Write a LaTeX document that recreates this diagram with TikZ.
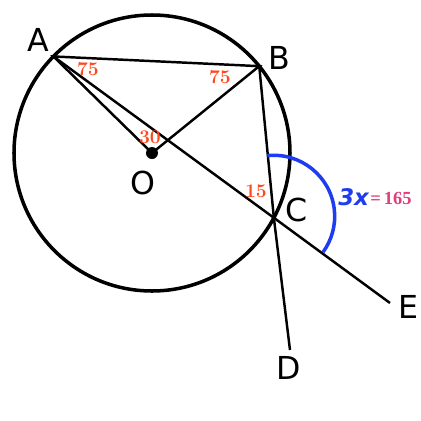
\documentclass[tikz,border=0pt]{standalone}
\usepackage{fontspec}
\setsansfont{DejaVu Sans}
\newfontfamily\valfont{Liberation Serif}
\usetikzlibrary{calc}
\definecolor{angred}{RGB}{255,72,30}
\definecolor{arcblue}{RGB}{30,60,240}
\definecolor{valpink}{RGB}{228,60,120}
\tikzset{
  pt/.style={font=\sffamily\fontsize{18}{20}\selectfont},
  ang/.style={text=angred,font=\bfseries\fontsize{11}{12}\selectfont,inner sep=0pt}
}
\begin{document}
\begin{tikzpicture}
\useasboundingbox (-3.04,3.06) rectangle (5.38,-5.36);
\coordinate (O) at (0,0);
\coordinate (A) at (135.6:2.76);
\coordinate (B) at (39:2.76);
\coordinate (C) at (-28:2.76);
\coordinate (D) at (2.76,-3.94);
\coordinate (E) at (4.76,-3.0);
\draw[line width=2pt] (O) circle (2.76);
\draw[line width=1.4pt] (A) -- (B) -- (O) -- cycle;
\draw[line width=1.4pt] (A) -- (C) -- (E);
\draw[line width=1.4pt] (B) -- (C) -- (D);
\fill (O) circle (0.12);
\path (C) ++(96:1.25) coordinate (arcstart);
\draw[arcblue,line width=2pt] (arcstart) arc[start angle=96,end angle=-36,radius=1.22];
\node[pt] (lA) at (-2.28,2.26) {A};
\node[pt] (lB) at (2.54,1.9) {B};
\node[pt] (lO) at (-0.18,-0.6) {O};
\node[pt] (lC) at (2.9,-1.14) {C};
\node[pt] (lD) at (2.74,-4.3) {D};
\node[pt] (lE) at (5.12,-3.08) {E};
\node[ang] (a1) at (-1.28,1.68) {75};
\node[ang] (a2) at (1.36,1.52) {75};
\node[ang] (a3) at (-0.04,0.32) {30};
\node[ang] (a4) at (2.08,-0.76) {15};
\node[anchor=west,inner sep=0pt,text=arcblue,font=\sffamily\bfseries\itshape\fontsize{13}{14}\selectfont] (x3) at (3.72,-0.88) {3x};
\node[anchor=west,inner sep=0pt,text=valpink,font=\valfont\bfseries\fontsize{10.5}{12}\selectfont] (val) at (4.36,-0.9) {=\,165};
\end{tikzpicture}
\end{document}
